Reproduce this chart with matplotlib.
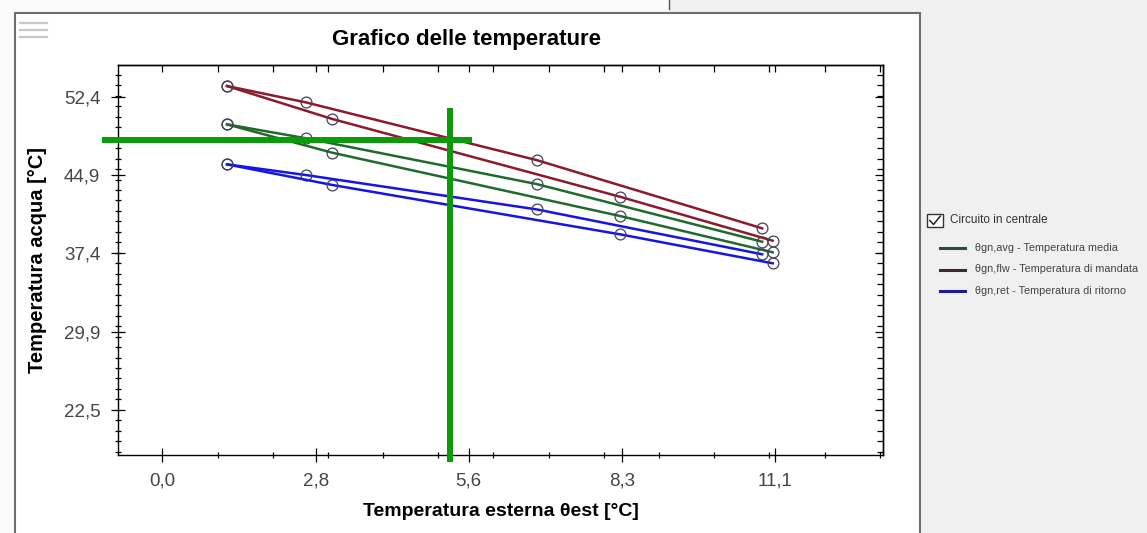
import matplotlib
matplotlib.use("Agg")
import matplotlib.pyplot as plt
from matplotlib.patches import Rectangle
from matplotlib.lines import Line2D
from matplotlib.ticker import MultipleLocator

plt.rcParams['font.family'] = ['Liberation Sans', 'DejaVu Sans']

# ---------------- data ----------------
x_a = [1.17, 2.60, 6.78, 10.87]
x_b = [1.17, 3.08, 8.29, 11.06]
flw_a = [53.38, 51.82, 46.31, 39.79]
flw_b = [53.38, 50.23, 42.81, 38.61]
avg_a = [49.72, 48.39, 44.02, 38.51]
avg_b = [49.72, 47.01, 40.97, 37.50]
ret_a = [45.90, 44.88, 41.60, 37.31]
ret_b = [45.90, 43.93, 39.22, 36.45]

x_ticks = [0.0, 2.775, 5.55, 8.325, 11.1]
x_tick_labels = ["0,0", "2,8", "5,6", "8,3", "11,1"]
y_ticks = [22.45, 29.925, 37.4, 44.875, 52.35]
y_tick_labels = ["22,5", "29,9", "37,4", "44,9", "52,4"]

cross_x = 5.21
cross_y = 48.22
cross_h_span = [-1.10, 5.61]
cross_v_span = [17.47, 51.28]

legend_labels = ["θgn,avg - Temperatura media",
                 "θgn,flw - Temperatura di mandata",
                 "θgn,ret - Temperatura di ritorno"]
legend_title = "Circuito in centrale"
title = "Grafico delle temperature"
xlabel = "Temperatura esterna θest [°C]"
ylabel = "Temperatura acqua [°C]"

# ---------------- figure ----------------
W, H = 1147, 533
fig = plt.figure(figsize=(W / 100, H / 100), dpi=100)
fig.patch.set_facecolor('#f0f0f0')

def fx(px):
    return px / W

def fy(py):
    return 1 - py / H

# decorations (panel, icons)
fig.add_artist(Rectangle((0, fy(13)), fx(669), 13 / H, transform=fig.transFigure,
                         facecolor='#fbfbfb', edgecolor='none', zorder=-3))
fig.add_artist(Rectangle((0, 0), fx(15), 1, transform=fig.transFigure,
                         facecolor='#fbfbfb', edgecolor='none', zorder=-3))
fig.add_artist(Rectangle((fx(15), fy(545)), (920 - 15) / W, (545 - 13) / H,
                         transform=fig.transFigure, facecolor='white',
                         edgecolor='#6e6e6e', lw=1.5, zorder=-2))
fig.add_artist(Line2D([fx(669), fx(669)], [fy(0), fy(9)], transform=fig.transFigure,
                      color='#555555', lw=1, zorder=-1))
for yy in [22.7, 30, 36.7]:
    fig.add_artist(Line2D([fx(20), fx(46.5)], [fy(yy), fy(yy)], transform=fig.transFigure,
                          color='#c8c8c8', lw=1.6, zorder=-1))

# axes
ax = fig.add_axes([118 / W, 1 - 455 / H, (883 - 118) / W, (455 - 65) / H])
ax.set_facecolor('white')

c_red = '#8b1a2a'
c_green = '#1f6b2c'
c_blue = '#1414e6'
m_edge = '#45405a'

for xs, ys, c in [(x_a, avg_a, c_green), (x_b, avg_b, c_green),
                  (x_a, flw_a, c_red), (x_b, flw_b, c_red),
                  (x_a, ret_a, c_blue), (x_b, ret_b, c_blue)]:
    ax.plot(xs, ys, color=c, lw=1.8, marker='o', markersize=7.8,
            markerfacecolor='none', markeredgecolor=m_edge, markeredgewidth=0.9, zorder=3)

# crosshair
ax.plot(cross_h_span, [cross_y, cross_y], color='#0a9a0a', lw=4.3,
        solid_capstyle='butt', clip_on=False, zorder=5)
ax.plot([cross_x, cross_x], cross_v_span, color='#0a9a0a', lw=4.3,
        solid_capstyle='butt', clip_on=False, zorder=5)

ax.set_xlim(-0.806, 13.06)
ax.set_ylim(18.14, 55.39)

ax.set_xticks(x_ticks, labels=x_tick_labels)
ax.set_yticks(y_ticks, labels=y_tick_labels)
ax.xaxis.set_minor_locator(MultipleLocator(1))
ax.yaxis.set_minor_locator(MultipleLocator(1, offset=0.45))
ax.tick_params(which='major', direction='inout', length=9.5, width=0.9,
               labelsize=13.5, labelcolor='#454545', color='black')
ax.tick_params(axis='y', which='major', pad=8)
ax.tick_params(axis='x', which='major', pad=8)
ax.tick_params(which='minor', direction='inout', length=5, width=0.9, color='black')
for s in ax.spines.values():
    s.set_linewidth(1.0)
    s.set_color('black')

secx = ax.secondary_xaxis('top')
secx.set_xticks(x_ticks, labels=[])
secx.xaxis.set_minor_locator(MultipleLocator(1))
secx.tick_params(which='both', direction='in', length=5, width=0.9)
secx.spines['top'].set_linewidth(1.0)

secy = ax.secondary_yaxis('right')
secy.set_yticks(y_ticks, labels=[])
secy.yaxis.set_minor_locator(MultipleLocator(1, offset=0.45))
secy.tick_params(which='major', direction='in', length=5.5, width=0.9)
secy.tick_params(which='minor', direction='in', length=4, width=0.9)
secy.spines['right'].set_linewidth(1.0)

ax.set_xlabel(xlabel, fontsize=14, fontweight='bold', va='center')
ax.xaxis.set_label_coords(0.5, (455 - 512) / 390)
ax.set_ylabel(ylabel, fontsize=14.5, fontweight='bold', va='center')
ax.yaxis.set_label_coords((38 - 118) / 765, 0.5)

fig.text(fx(467), fy(40), title, ha='center', va='center', fontsize=16, fontweight='bold')

# legend panel
fig.add_artist(Rectangle((fx(927), fy(227.3)), 15.5 / W, 13.3 / H, transform=fig.transFigure,
                         facecolor='white', edgecolor='#333333', lw=1, zorder=2))
fig.add_artist(Line2D([fx(929.8), fx(933.6), fx(940.2)], [fy(220.6), fy(224.4), fy(216.2)],
                      transform=fig.transFigure, color='#222222', lw=1.1, zorder=3))
fig.text(fx(950), fy(220), legend_title, ha='left', va='center', fontsize=8.5, color='#333333')

legend_colors = ['#2e4a3a', '#3d2a30', '#1a1a9a']
legend_y = [248.3, 269.5, 290.5]
for lab, col, yy in zip(legend_labels, legend_colors, legend_y):
    fig.add_artist(Line2D([fx(940), fx(965)], [fy(yy), fy(yy)], transform=fig.transFigure,
                          color=col, lw=2.2, zorder=2))
    fig.text(fx(975), fy(yy), lab, ha='left', va='center', fontsize=7.8, color='#444444')

fig.savefig('out.png', dpi=100, facecolor=fig.get_facecolor())
